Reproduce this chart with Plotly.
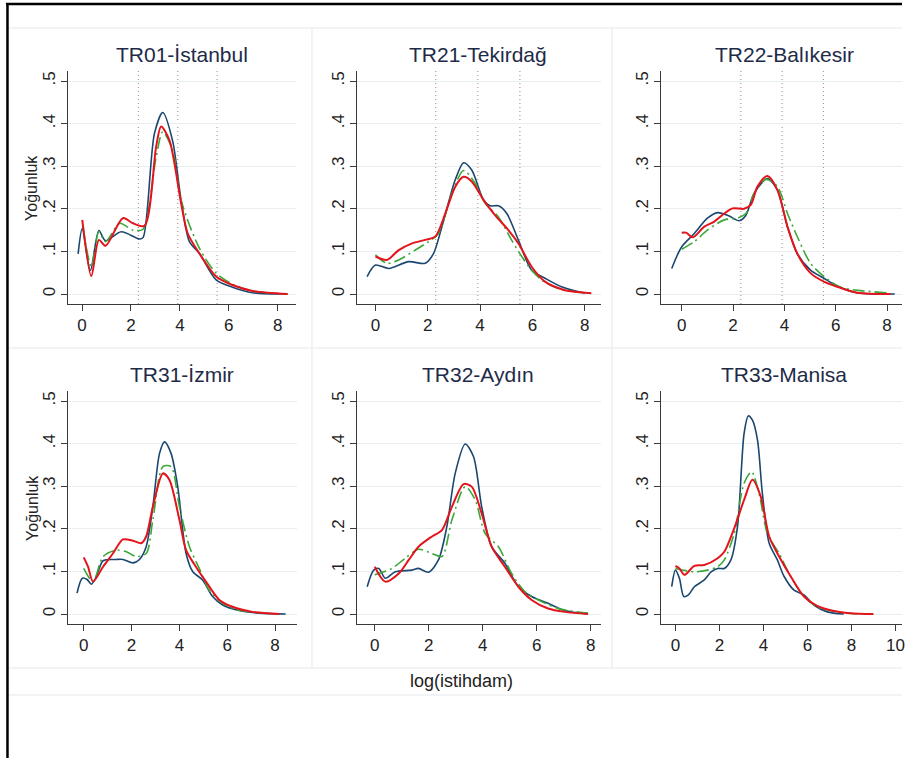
import plotly.graph_objects as go

W, H = 905, 758

# ---------------- data ----------------
TITLES = ["TR01-İstanbul", "TR21-Tekirdağ", "TR22-Balıkesir",
          "TR31-İzmir", "TR32-Aydın", "TR33-Manisa"]
Y_TICKS = [0, 0.1, 0.2, 0.3, 0.4, 0.5]
Y_TICK_TEXT = ["0", ".1", ".2", ".3", ".4", ".5"]
X_TICKS = [0, 2, 4, 6, 8, 10]
THRESHOLDS = [2.303, 3.912, 5.521]   # ln(10), ln(50), ln(250)

# TR01 Istanbul
IST_NAVY_X = [-0.16, 0.01, 0.34, 0.69, 0.96, 1.6, 2.35, 2.5, 2.96, 3.3, 3.7, 4.05, 4.39, 4.8, 5.48, 6.15, 6.97, 8.4]
IST_NAVY_Y = [0.094, 0.154, 0.055, 0.149, 0.125, 0.146, 0.129, 0.133, 0.377, 0.426, 0.36, 0.22, 0.123, 0.095, 0.033, 0.016, 0.003, 0.0]
IST_RED_X = [0.01, 0.38, 0.69, 0.96, 1.67, 2.08, 2.55, 3.03, 3.23, 3.57, 4.05, 4.32, 4.8, 5.48, 6.15, 6.97, 8.4]
IST_RED_Y = [0.174, 0.042, 0.127, 0.113, 0.178, 0.166, 0.16, 0.346, 0.393, 0.361, 0.213, 0.142, 0.095, 0.041, 0.021, 0.007, 0.0]
IST_GRN_X = [0.04, 0.38, 0.69, 0.96, 1.54, 2.08, 2.49, 3.03, 3.3, 3.7, 4.05, 4.8, 5.48, 6.15, 6.97, 8.4]
IST_GRN_Y = [0.158, 0.064, 0.146, 0.123, 0.166, 0.150, 0.152, 0.322, 0.381, 0.338, 0.22, 0.107, 0.049, 0.023, 0.007, 0.0]

# TR21 Tekirdag
TEK_NAVY_X = [-0.32, 0.0, 0.51, 1.27, 1.9, 2.22, 2.54, 3.05, 3.37, 3.68, 4.13, 4.38, 4.7, 5.02, 5.46, 5.97, 6.48, 7.11, 8.0]
TEK_NAVY_Y = [0.041, 0.068, 0.060, 0.076, 0.072, 0.095, 0.158, 0.268, 0.308, 0.291, 0.221, 0.207, 0.207, 0.189, 0.127, 0.056, 0.037, 0.017, 0.002]
TEK_RED_X = [0.0, 0.44, 0.89, 1.4, 1.9, 2.29, 2.67, 3.05, 3.37, 3.68, 4.13, 4.57, 5.08, 5.46, 5.97, 6.48, 7.24, 8.25]
TEK_RED_Y = [0.088, 0.080, 0.103, 0.119, 0.127, 0.135, 0.189, 0.252, 0.275, 0.264, 0.221, 0.185, 0.150, 0.119, 0.064, 0.029, 0.009, 0.002]
TEK_GRN_X = [0.0, 0.44, 0.89, 1.52, 2.03, 2.41, 2.92, 3.37, 3.81, 4.19, 4.7, 5.2, 5.59, 5.97, 6.35, 6.98, 8.0]
TEK_GRN_Y = [0.092, 0.072, 0.080, 0.103, 0.123, 0.142, 0.236, 0.29, 0.26, 0.213, 0.181, 0.127, 0.088, 0.056, 0.033, 0.013, 0.002]

# TR22 Balikesir
BAL_NAVY_X = [-0.39, 0.0, 0.49, 1.0, 1.4, 1.85, 2.24, 2.5, 2.82, 3.34, 3.73, 4.12, 4.5, 5.02, 5.54, 6.06, 6.83, 8.3]
BAL_NAVY_Y = [0.060, 0.111, 0.142, 0.178, 0.191, 0.183, 0.172, 0.185, 0.236, 0.271, 0.244, 0.158, 0.095, 0.056, 0.037, 0.019, 0.003, 0.0]
BAL_RED_X = [0.0, 0.17, 0.43, 0.88, 1.27, 1.66, 1.98, 2.43, 2.69, 2.95, 3.34, 3.73, 4.12, 4.5, 5.02, 5.54, 6.06, 6.83, 8.13]
BAL_RED_Y = [0.144, 0.144, 0.133, 0.158, 0.17, 0.189, 0.201, 0.2, 0.209, 0.252, 0.277, 0.244, 0.158, 0.095, 0.049, 0.029, 0.017, 0.003, 0.0]
BAL_GRN_X = [0.0, 0.49, 1.0, 1.66, 2.17, 2.5, 2.82, 3.28, 3.73, 4.12, 4.5, 5.02, 5.54, 6.19, 6.96, 8.0]
BAL_GRN_Y = [0.105, 0.123, 0.150, 0.174, 0.178, 0.189, 0.236, 0.269, 0.252, 0.189, 0.135, 0.072, 0.041, 0.016, 0.008, 0.003]

# TR31 Izmir
IZM_NAVY_X = [-0.28, -0.06, 0.14, 0.32, 0.53, 0.81, 1.36, 1.64, 2.06, 2.33, 2.61, 2.89, 3.17, 3.38, 3.65, 3.93, 4.28, 4.56, 4.97, 5.39, 5.81, 6.5, 7.33, 8.44]
IZM_NAVY_Y = [0.049, 0.084, 0.081, 0.07, 0.088, 0.125, 0.128, 0.128, 0.12, 0.128, 0.158, 0.252, 0.377, 0.404, 0.377, 0.299, 0.142, 0.099, 0.08, 0.041, 0.021, 0.008, 0.002, 0.0]
IZM_RED_X = [0.0, 0.18, 0.39, 0.81, 1.22, 1.64, 2.06, 2.4, 2.61, 2.89, 3.31, 3.58, 4.0, 4.28, 4.69, 5.11, 5.67, 6.22, 7.06, 8.17]
IZM_RED_Y = [0.133, 0.111, 0.076, 0.111, 0.142, 0.175, 0.172, 0.166, 0.182, 0.252, 0.33, 0.315, 0.221, 0.15, 0.111, 0.076, 0.033, 0.017, 0.005, 0.0]
IZM_GRN_X = [0.0, 0.39, 0.81, 1.36, 1.78, 2.19, 2.61, 2.89, 3.31, 3.65, 4.0, 4.42, 4.83, 5.25, 5.81, 6.5, 7.61]
IZM_GRN_Y = [0.107, 0.076, 0.135, 0.150, 0.146, 0.135, 0.142, 0.221, 0.346, 0.346, 0.252, 0.158, 0.107, 0.056, 0.025, 0.009, 0.002]

# TR32 Aydin
AYD_NAVY_X = [-0.28, -0.04, 0.15, 0.39, 0.76, 1.38, 1.62, 1.99, 2.36, 2.67, 2.98, 3.35, 3.66, 3.96, 4.33, 4.82, 5.32, 5.81, 6.42, 7.04, 7.9]
AYD_NAVY_Y = [0.064, 0.103, 0.107, 0.084, 0.099, 0.103, 0.107, 0.098, 0.127, 0.205, 0.330, 0.399, 0.369, 0.252, 0.158, 0.119, 0.064, 0.041, 0.025, 0.008, 0.0]
AYD_RED_X = [0.0, 0.39, 0.89, 1.26, 1.62, 2.12, 2.49, 2.86, 3.29, 3.59, 3.96, 4.33, 4.82, 5.32, 5.81, 6.42, 7.04, 7.9]
AYD_RED_Y = [0.111, 0.076, 0.095, 0.127, 0.158, 0.182, 0.197, 0.252, 0.305, 0.299, 0.236, 0.158, 0.111, 0.064, 0.033, 0.013, 0.005, 0.0]
AYD_GRN_X = [0.0, 0.64, 1.13, 1.62, 2.12, 2.49, 2.86, 3.35, 3.72, 4.09, 4.58, 5.07, 5.57, 6.06, 6.79, 7.9]
AYD_GRN_Y = [0.092, 0.107, 0.131, 0.152, 0.142, 0.135, 0.221, 0.299, 0.268, 0.189, 0.158, 0.095, 0.052, 0.033, 0.013, 0.002]

# TR33 Manisa
MAN_NAVY_X = [-0.17, 0.0, 0.18, 0.38, 0.59, 0.86, 1.31, 1.62, 1.92, 2.22, 2.52, 2.82, 3.12, 3.31, 3.5, 3.73, 3.95, 4.26, 4.63, 4.94, 5.39, 5.84, 6.29, 6.9, 7.65]
MAN_NAVY_Y = [0.064, 0.103, 0.084, 0.041, 0.045, 0.064, 0.08, 0.099, 0.107, 0.107, 0.127, 0.205, 0.424, 0.465, 0.455, 0.408, 0.283, 0.166, 0.127, 0.088, 0.056, 0.045, 0.021, 0.005, 0.0]
MAN_RED_X = [0.0, 0.18, 0.41, 0.86, 1.31, 1.92, 2.22, 2.67, 3.12, 3.5, 3.88, 4.26, 4.71, 5.24, 5.84, 6.44, 7.2, 7.95, 9.0]
MAN_RED_Y = [0.113, 0.107, 0.092, 0.113, 0.115, 0.131, 0.146, 0.201, 0.268, 0.315, 0.275, 0.182, 0.135, 0.088, 0.041, 0.019, 0.007, 0.002, 0.0]
MAN_GRN_X = [0.0, 0.86, 1.46, 1.92, 2.22, 2.67, 3.12, 3.46, 3.8, 4.18, 4.71, 5.24, 5.84, 6.44, 7.35, 8.26]
MAN_GRN_Y = [0.107, 0.099, 0.103, 0.111, 0.127, 0.189, 0.307, 0.334, 0.283, 0.189, 0.142, 0.088, 0.041, 0.017, 0.005, 0.0]

PANELS = [
    (IST_NAVY_X, IST_NAVY_Y, IST_RED_X, IST_RED_Y, IST_GRN_X, IST_GRN_Y),
    (TEK_NAVY_X, TEK_NAVY_Y, TEK_RED_X, TEK_RED_Y, TEK_GRN_X, TEK_GRN_Y),
    (BAL_NAVY_X, BAL_NAVY_Y, BAL_RED_X, BAL_RED_Y, BAL_GRN_X, BAL_GRN_Y),
    (IZM_NAVY_X, IZM_NAVY_Y, IZM_RED_X, IZM_RED_Y, IZM_GRN_X, IZM_GRN_Y),
    (AYD_NAVY_X, AYD_NAVY_Y, AYD_RED_X, AYD_RED_Y, AYD_GRN_X, AYD_GRN_Y),
    (MAN_NAVY_X, MAN_NAVY_Y, MAN_RED_X, MAN_RED_Y, MAN_GRN_X, MAN_GRN_Y),
]

# ---------------- layout geometry (pixels) ----------------
XGEOM = [(68, 297, 82.3, 278.7), (358, 603, 376.7, 586.7), (663, 905, 684, 890),
         (68, 298, 84, 276), (358, 603, 376, 592.7), (663, 905, 677.7, 854.3)]
YGEOM = [(71, 304, 294, 81), (391, 624, 614, 401)]
TITLE_X = [183, 480, 787]
TITLE_Y = [55, 375]
YTITLE_Y = [188, 508]

NAVY = "#1a476f"
RED = "#e3141b"
GREEN = "#3aa838"
FONT = "Liberation Sans, Arial, sans-serif"

fig = go.Figure()
layout = dict(width=W, height=H, margin=dict(l=0, r=0, t=0, b=0),
              paper_bgcolor="white", plot_bgcolor="white", showlegend=False,
              font=dict(family=FONT, color="#222"))
shapes = []
annotations = []

for i, (nx, ny, rx, ry, gx, gy) in enumerate(PANELS):
    row, col = divmod(i, 3)
    xl, xr, p0, p8 = XGEOM[i]
    yt, yb, q0, q5 = YGEOM[row]
    per = (p8 - p0) / 8.0
    xrange_ = [(xl - p0) / per, (xr - p0) / per]
    perq = (q0 - q5) / 0.5
    yrange_ = [-(yb - q0) / perq, (q0 - yt) / perq]
    sx = "" if i == 0 else str(i + 1)
    xa, ya = "x" + sx, "y" + sx
    xkey, ykey = "xaxis" + sx, "yaxis" + sx
    layout[xkey] = dict(domain=[xl / W, xr / W], range=xrange_, anchor=ya,
                        showline=True, linecolor="#3a3a3a", linewidth=1,
                        ticks="outside", ticklen=6, tickcolor="#3a3a3a",
                        tickvals=X_TICKS, ticktext=[str(v) for v in X_TICKS],
                        ticklabeloverflow="allow",
                        showgrid=False, zeroline=False,
                        tickfont=dict(size=17, color="#222"))
    layout[ykey] = dict(domain=[1 - yb / H, 1 - yt / H], range=yrange_, anchor=xa,
                        showline=True, linecolor="#3a3a3a", linewidth=1,
                        ticks="outside", ticklen=6, tickcolor="#3a3a3a",
                        tickvals=Y_TICKS, ticktext=Y_TICK_TEXT, tickangle=-90,
                        ticklabelstandoff=-1,
                        showgrid=True, gridcolor="#e9eff0", gridwidth=1,
                        zeroline=False, tickfont=dict(size=17, color="#222"))
    if col == 0:
        annotations.append(dict(text="Yoğunluk", xref="paper", yref="paper",
                                x=32 / W, y=1 - YTITLE_Y[row] / H, textangle=-90,
                                xanchor="center", yanchor="middle", showarrow=False,
                                font=dict(size=16, color="#222")))

    if row == 0:
        for t in THRESHOLDS:
            shapes.append(dict(type="line", xref=xa, yref=ya + " domain", x0=t, x1=t, y0=0, y1=1,
                               line=dict(color="#b89494", width=1.2, dash="1px,3px"), layer="below"))

    fig.add_trace(go.Scatter(x=nx, y=ny, xaxis=xa, yaxis=ya, mode="lines",
                             line=dict(color=NAVY, width=1.6, shape="spline", smoothing=0.8)))
    fig.add_trace(go.Scatter(x=gx, y=gy, xaxis=xa, yaxis=ya, mode="lines",
                             line=dict(color=GREEN, width=1.6, shape="spline", smoothing=0.8,
                                       dash="12px,4px,2px,4px")))
    fig.add_trace(go.Scatter(x=rx, y=ry, xaxis=xa, yaxis=ya, mode="lines",
                             line=dict(color=RED, width=2, shape="spline", smoothing=0.8)))

    annotations.append(dict(text=TITLES[i], xref="paper", yref="paper",
                            x=TITLE_X[col] / W, y=1 - TITLE_Y[row] / H,
                            xanchor="center", yanchor="middle", showarrow=False,
                            font=dict(size=21, color="#1e2b48")))

annotations.append(dict(text="log(istihdam)", xref="paper", yref="paper",
                        x=463 / W, y=1 - 681 / H, xanchor="center", yanchor="middle",
                        showarrow=False, font=dict(size=18, color="#222")))

# faint panel separators
SEP = "#eceff0"
for yy in [28, 348, 668, 695]:
    shapes.append(dict(type="line", xref="paper", yref="paper", x0=8 / W, x1=1,
                       y0=1 - yy / H, y1=1 - yy / H, line=dict(color=SEP, width=1.5), layer="below"))
for xx in [313, 614]:
    shapes.append(dict(type="line", xref="paper", yref="paper", x0=xx / W, x1=xx / W,
                       y0=1 - 668 / H, y1=1 - 28 / H, line=dict(color=SEP, width=1.5), layer="below"))

# outer black frame (top and left edges)
shapes.append(dict(type="line", xref="paper", yref="paper", x0=6 / W, x1=1,
                   y0=1 - 4 / H, y1=1 - 4 / H, line=dict(color="black", width=2.5)))
shapes.append(dict(type="line", xref="paper", yref="paper", x0=7.5 / W, x1=7.5 / W,
                   y0=0, y1=1 - 3 / H, line=dict(color="black", width=2.5)))

layout["shapes"] = shapes
layout["annotations"] = annotations
fig.update_layout(**layout)
fig.write_html("out.html", config={"displayModeBar": False},
               post_script="document.body.style.margin='0px';document.body.style.overflow='hidden';")
